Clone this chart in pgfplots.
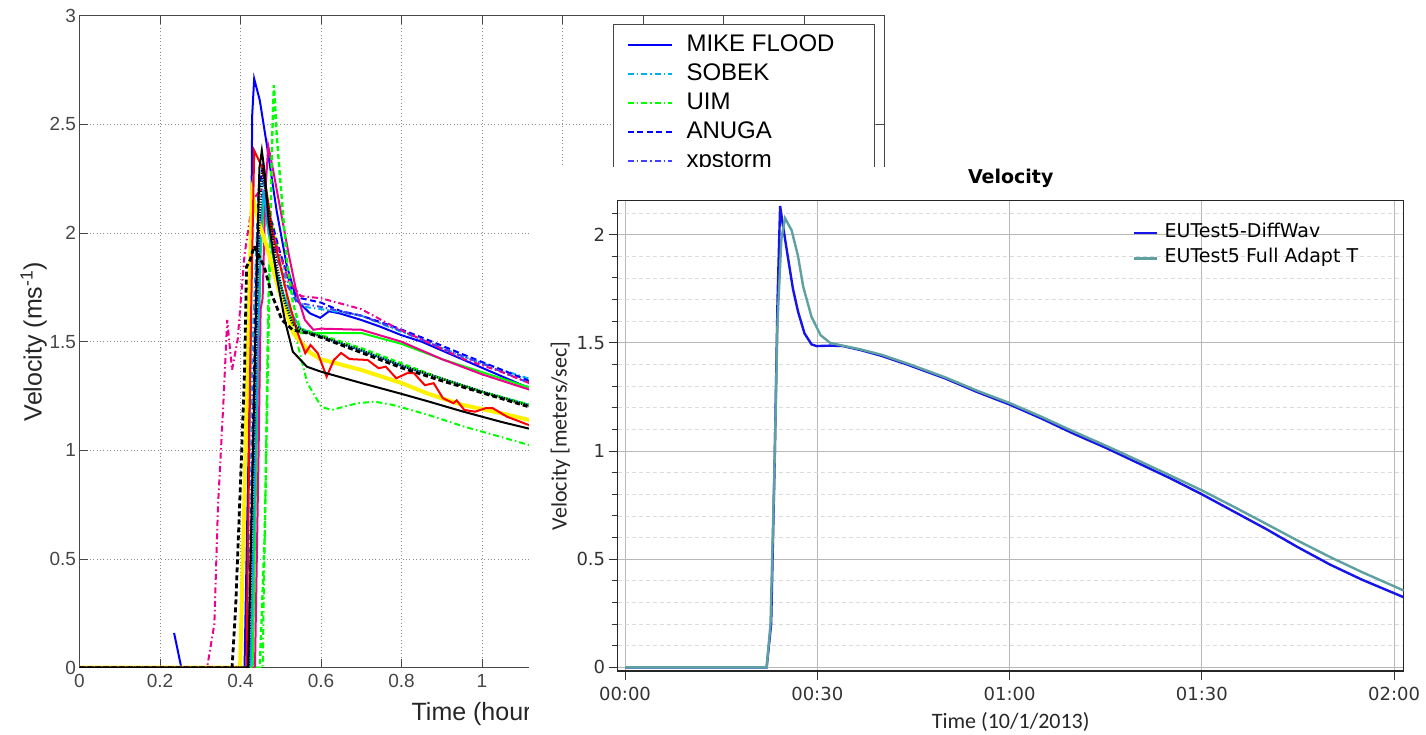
\documentclass[border=0pt]{standalone}
\usepackage{fontspec}
\setmainfont{Liberation Sans}
\newfontfamily\dejavu{DejaVu Sans}
\newfontfamily\carlito{Carlito}
\usepackage{pgfplots}
\pgfplotsset{compat=1.18}
\definecolor{tealc}{RGB}{95,160,160}
\definecolor{bluec}{RGB}{20,20,235}
\definecolor{lgray}{RGB}{70,70,70}
\begin{document}
\begin{tikzpicture}[x=1pt,y=1pt]
\useasboundingbox (0,0) rectangle (1426,-734);
% ---------------- left chart ----------------
\begin{axis}[
  at={(79.5pt,-667.7pt)}, anchor=south west,
  scale only axis, width=805pt, height=652pt,
  xmin=0, xmax=2, ymin=0, ymax=3,
  xtick={0,0.2,0.4,0.6,0.8,1,1.2,1.4,1.6,1.8,2},
  xticklabels={0,0.2,0.4,0.6,0.8,1,{},{},{},{},{}},
  ytick={0,0.5,1,1.5,2,2.5,3},
  yticklabels={0,0.5,1,1.5,2,2.5,3},
  /pgf/number format/assume math mode=true,
  tick label style={font=\fontsize{19}{21}\selectfont, text=lgray},
  xticklabel style={yshift=-3pt},
  tick align=inside, major tick length=8.5pt,
  tick style={lgray, line width=0.9pt},
  axis line style={lgray, line width=1.5pt},
  grid=major,
  major grid style={black!45, line width=0.8pt, dash pattern=on 0.8pt off 2.6pt},
  every axis x label/.style={at={(rel axis cs:0.5,-0.0802)}, anchor=base},
  every axis y label/.style={at={(rel axis cs:-0.057,0.5)}, rotate=90, anchor=center},
  xlabel={Time (hours)}, ylabel={Velocity (ms\textsuperscript{-1})},
  label style={font=\fontsize{25}{29}\selectfont, text=black!85},
  legend style={at={(0.9882,0.9868)}, anchor=north east, draw=lgray, line width=0.9pt, fill=white,
    font=\fontsize{24}{28}\selectfont, inner xsep=13pt, inner ysep=9pt,
    nodes={inner sep=0pt, text height=18pt, text depth=5pt}, row sep=6pt, column sep=14pt},
  legend cell align=left,
  legend image code/.code={\draw[#1] (0pt,0pt) -- (44pt,0pt);},
]
% MIKE FLOOD
\addplot[blue, line width=2pt] coordinates {
(0.235,0.16)(0.253,0)(0.41,0)(0.425,1.5)(0.429,2.54)(0.434,2.71)(0.448,2.61)(0.465,2.41)(0.49,2.1)(0.515,1.85)(0.54,1.69)(0.573,1.63)(0.598,1.61)(0.62,1.64)(0.647,1.63)(0.7,1.6)(0.746,1.57)(0.8,1.53)(0.85,1.50)(0.9,1.46)(0.95,1.42)(1.0,1.38)(1.05,1.34)(1.1,1.30)(1.2,1.24)};
\addlegendentry{\makebox[175pt][l]{MIKE FLOOD}}
% SOBEK
\addplot[cyan, line width=2pt, dash pattern=on 6pt off 3pt on 1.5pt off 3pt] coordinates {
(0,0)(0.42,0)(0.43,1.5)(0.445,2.2)(0.455,2.25)(0.47,2.05)(0.5,1.85)(0.53,1.72)(0.56,1.66)(0.6,1.65)(0.7,1.62)(0.78,1.56)(0.85,1.51)(0.955,1.43)(1.05,1.37)(1.117,1.33)(1.2,1.28)};
\addlegendentry{SOBEK}
% UIM
\addplot[green, line width=2pt, dash pattern=on 6pt off 3pt on 1.5pt off 3pt] coordinates {
(0,0)(0.455,0)(0.462,0.8)(0.468,1.6)(0.472,1.9)(0.48,2.05)(0.49,1.95)(0.51,1.75)(0.539,1.51)(0.566,1.31)(0.601,1.2)(0.627,1.186)(0.69,1.217)(0.734,1.224)(0.779,1.209)(0.867,1.163)(0.956,1.109)(1.045,1.063)(1.116,1.025)(1.2,0.98)};
\addlegendentry{UIM}
% ANUGA
\addplot[blue, line width=2pt, dash pattern=on 6pt off 3.5pt] coordinates {
(0,0)(0.42,0)(0.435,1.5)(0.445,2.2)(0.455,2.3)(0.47,2.1)(0.5,1.9)(0.53,1.73)(0.55,1.70)(0.6,1.68)(0.65,1.64)(0.7,1.62)(0.78,1.57)(0.85,1.52)(0.955,1.44)(1.05,1.37)(1.117,1.32)(1.2,1.27)};
\addlegendentry{ANUGA}
% xpstorm
\addplot[blue!75, line width=2pt, dash pattern=on 6pt off 3pt on 1.5pt off 3pt] coordinates {
(0,0)(0.43,0)(0.44,1.6)(0.45,2.1)(0.46,2.15)(0.48,1.95)(0.51,1.78)(0.54,1.68)(0.6,1.66)(0.7,1.62)(0.8,1.55)(0.9,1.47)(1.0,1.40)(1.117,1.31)(1.2,1.26)};
\addlegendentry{xpstorm}
% other models (legend hidden)
\addplot[magenta, line width=2pt, dash pattern=on 6pt off 3pt on 1.5pt off 3pt, forget plot] coordinates {
(0,0)(0.317,0)(0.335,0.2)(0.344,0.74)(0.357,1.2)(0.367,1.6)(0.379,1.37)(0.393,1.51)(0.41,1.9)(0.43,2.15)(0.45,2.2)(0.48,2.0)(0.52,1.78)(0.55,1.71)(0.6,1.70)(0.7,1.65)(0.78,1.57)(0.85,1.51)(0.955,1.42)(1.05,1.36)(1.117,1.31)(1.2,1.26)};
\addplot[green, line width=2pt, forget plot] coordinates {
(0,0)(0.43,0)(0.44,1.0)(0.45,1.9)(0.458,2.15)(0.47,2.0)(0.49,1.8)(0.52,1.62)(0.55,1.54)(0.6,1.54)(0.7,1.54)(0.8,1.49)(0.9,1.42)(1.0,1.36)(1.117,1.29)(1.2,1.24)};
\addplot[magenta, line width=2pt, forget plot] coordinates {
(0,0)(0.436,0)(0.445,1.0)(0.45,1.65)(0.455,1.7)(0.462,2.2)(0.469,2.40)(0.48,2.3)(0.5,2.1)(0.52,1.9)(0.54,1.72)(0.56,1.6)(0.581,1.555)(0.6,1.56)(0.7,1.555)(0.8,1.50)(0.9,1.42)(1.0,1.35)(1.117,1.28)(1.2,1.23)};
\addplot[cyan, line width=2pt, forget plot] coordinates {
(0,0)(0.425,0)(0.44,1.2)(0.45,2.0)(0.457,2.2)(0.47,2.0)(0.49,1.82)(0.51,1.7)(0.53,1.62)(0.55,1.56)(0.6,1.525)(0.7,1.46)(0.8,1.39)(0.9,1.33)(1.0,1.27)(1.117,1.21)(1.2,1.16)};
\addplot[green, line width=2.4pt, dash pattern=on 5pt off 3pt, forget plot] coordinates {
(0,0)(0.448,0)(0.46,0.6)(0.47,1.6)(0.478,2.4)(0.483,2.68)(0.49,2.45)(0.498,2.26)(0.515,1.88)(0.53,1.68)(0.548,1.56)(0.6,1.53)(0.7,1.47)(0.8,1.40)(0.9,1.33)(1.0,1.27)(1.117,1.21)(1.2,1.16)};
\addplot[yellow, line width=4pt, forget plot] coordinates {
(0,0)(0.399,0)(0.41,0.8)(0.42,1.6)(0.429,2.18)(0.445,2.05)(0.465,1.94)(0.498,1.72)(0.531,1.54)(0.573,1.45)(0.598,1.42)(0.7,1.37)(0.8,1.31)(0.867,1.26)(0.95,1.21)(1.05,1.17)(1.117,1.14)(1.2,1.10)};
\addplot[red, line width=2pt, forget plot] coordinates {
(0,0)(0.415,0)(0.425,1.5)(0.434,2.38)(0.457,2.29)(0.48,2.0)(0.515,1.72)(0.54,1.55)(0.561,1.447)(0.574,1.485)(0.592,1.447)(0.614,1.339)(0.632,1.416)(0.65,1.448)(0.671,1.42)(0.716,1.416)(0.743,1.378)(0.761,1.385)(0.787,1.332)(0.814,1.355)(0.831,1.355)(0.858,1.30)(0.88,1.309)(0.903,1.24)(0.929,1.217)(0.937,1.23)(0.956,1.186)(0.983,1.178)(1.009,1.194)(1.027,1.194)(1.062,1.155)(1.116,1.117)(1.2,1.07)};
\addplot[black, line width=2pt, forget plot] coordinates {
(0,0)(0.419,0)(0.43,0.9)(0.44,1.8)(0.447,2.3)(0.453,2.38)(0.46,2.28)(0.47,2.05)(0.49,1.8)(0.51,1.6)(0.53,1.454)(0.565,1.385)(0.6,1.362)(0.7,1.31)(0.8,1.26)(0.867,1.225)(0.95,1.18)(1.05,1.13)(1.117,1.10)(1.2,1.06)};
\addplot[black, line width=2.8pt, dash pattern=on 5pt off 3pt, forget plot] coordinates {
(0,0)(0.379,0)(0.388,0.28)(0.401,0.9)(0.41,1.36)(0.415,1.845)(0.424,1.876)(0.434,1.94)(0.459,1.845)(0.477,1.72)(0.503,1.60)(0.53,1.554)(0.566,1.54)(0.6,1.52)(0.7,1.45)(0.8,1.38)(0.9,1.32)(1.0,1.265)(1.117,1.20)(1.2,1.15)};
\addplot[black, line width=2.6pt, dash pattern=on 1pt off 1.6pt, forget plot] coordinates {
(0,0)(0.42,0)(0.435,1.2)(0.445,2.0)(0.455,2.3)(0.47,2.1)(0.49,1.85)(0.51,1.68)(0.53,1.58)(0.56,1.545)(0.6,1.525)(0.7,1.46)(0.8,1.39)(0.9,1.33)(1.0,1.27)(1.117,1.205)(1.2,1.16)};
\end{axis}
% white panel of the inset chart
\fill[white] (529.3,-166.7) rectangle (1426,-734);
% ---------------- right chart ----------------
\begin{axis}[
  at={(617.7pt,-671pt)}, anchor=south west,
  scale only axis, width=786pt, height=470.3pt,
  xmin=-1.14, xmax=121.5, ymin=-0.017, ymax=2.157,
  xtick={0,30,60,90,120}, xticklabels={00:00,00:30,01:00,01:30,02:00},
  ytick={0,0.5,1,1.5,2}, yticklabels={0,0.5,1,1.5,2},
  minor ytick={0.1,0.2,0.3,0.4,0.6,0.7,0.8,0.9,1.1,1.2,1.3,1.4,1.6,1.7,1.8,1.9,2.1},
  tick pos=left, tick align=outside, major tick length=9pt, minor tick length=6pt,
  /pgf/number format/assume math mode=true,
  tick label style={font=\dejavu\fontsize{18}{20}\selectfont, text=black!80},
  xticklabel style={yshift=-4pt},
  tick style={black!80, line width=0.9pt},
  axis line style={black!85, line width=1.2pt},
  xmajorgrids, ymajorgrids, yminorgrids,
  major grid style={black!28, line width=0.9pt},
  minor grid style={black!14, line width=0.8pt, dash pattern=on 4pt off 3pt},
  title={Velocity},
  title style={at={(0.5,1.0228)}, anchor=base, font=\dejavu\bfseries\fontsize{19}{22}\selectfont},
  every axis x label/.style={at={(rel axis cs:0.5,-0.1218)}, anchor=base},
  every axis y label/.style={at={(rel axis cs:-0.0649,0.5)}, rotate=90, anchor=base},
  xlabel={Time (10/1/2013)}, ylabel={Velocity [meters/sec]},
  label style={font=\carlito\fontsize{22}{26}\selectfont, text=black!85},
  legend style={at={(0.6556,0.952)}, anchor=north west, draw=none, fill=none,
    font=\dejavu\fontsize{19}{22}\selectfont, inner sep=0pt,
    nodes={inner sep=0pt, text height=14pt, text depth=5pt}, row sep=6.4pt, column sep=6pt},
  legend cell align=left,
  legend image code/.code={\draw[#1] (0pt,0pt) -- (23pt,0pt);},
]
\addplot[bluec, line width=2.4pt] coordinates {
(0,0)(22.1,0)(22.8,0.2)(23.35,0.95)(23.8,1.7)(24.2,2.133)(24.6,2.05)(25.5,1.88)(26.2,1.75)(27.0,1.644)(28.0,1.544)(29.1,1.493)(29.9,1.485)(32,1.487)(34,1.485)(36.7,1.467)(40,1.44)(44,1.40)(50,1.335)(55,1.272)(60,1.215)(65,1.15)(70,1.08)(75,1.015)(80,0.945)(85,0.875)(90,0.80)(95,0.72)(100,0.64)(105,0.555)(110,0.475)(115,0.405)(121.5,0.324)};
\addlegendentry{EUTest5-DiffWav}
\addplot[tealc, line width=2.4pt] coordinates {
(0,0)(22.1,0)(22.7,0.2)(23.3,0.9)(23.8,1.6)(24.4,1.98)(24.97,2.076)(26.0,2.02)(27.0,1.9)(27.8,1.76)(29.1,1.62)(30.5,1.536)(32,1.50)(33.5,1.49)(36.7,1.47)(40,1.445)(44,1.405)(50,1.34)(55,1.278)(60,1.222)(65,1.158)(70,1.09)(75,1.025)(80,0.957)(85,0.888)(90,0.818)(95,0.742)(100,0.664)(105,0.585)(110,0.51)(115,0.44)(121.5,0.355)};
\addlegendentry{EUTest5 Full Adapt T}
\end{axis}
\end{tikzpicture}
\end{document}
